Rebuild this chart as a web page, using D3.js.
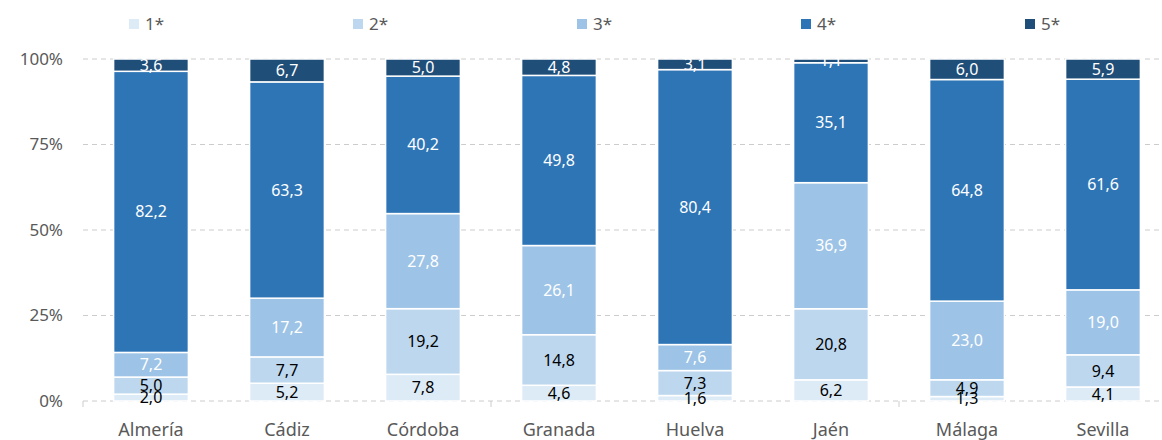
<!DOCTYPE html>
<html>
<head>
<meta charset="utf-8">
<script src="https://cdn.jsdelivr.net/npm/d3@7"></script>
<style>
  body { margin: 0; background: #fff; }
  text { font-family: "Source Sans Pro", "Noto Sans", sans-serif; }
</style>
</head>
<body>
<svg id="chart" width="1162" height="440"></svg>
<script>
const provinces = ["Almería", "Cádiz", "Córdoba", "Granada", "Huelva", "Jaén", "Málaga", "Sevilla"];
const stars = ["1*", "2*", "3*", "4*", "5*"];
const star1 = [2.0, 5.2, 7.8, 4.6, 1.6, 6.2, 1.3, 4.1];
const star2 = [5.0, 7.7, 19.2, 14.8, 7.3, 20.8, 4.9, 9.4];
const star3 = [7.2, 17.2, 27.8, 26.1, 7.6, 36.9, 23.0, 19.0];
const star4 = [82.2, 63.3, 40.2, 49.8, 80.4, 35.1, 64.8, 61.6];
const star5 = [3.6, 6.7, 5.0, 4.8, 3.1, 1.1, 6.0, 5.9];
const yTicks = [0, 0.25, 0.5, 0.75, 1];

const colors = ["#ddebf7", "#bdd7ee", "#9dc3e6", "#2e75b6", "#1f4e79"];
const labelColors = ["#000", "#000", "#fff", "#fff", "#fff"];

const svg = d3.select("#chart");
const margin = { top: 59, left: 83, bottom: 401 };

const rows = provinces.map((p, i) => {
  const r = { province: p };
  [star1, star2, star3, star4, star5].forEach((s, k) => r[stars[k]] = s[i]);
  return r;
});

const x = d3.scaleBand()
  .domain(provinces)
  .range([margin.left, margin.left + 136 * 8])
  .paddingInner(0.45)
  .paddingOuter(0.225);

const y = d3.scaleLinear().domain([0, 1]).range([margin.bottom, margin.top]);

// gridlines
svg.append("g")
  .selectAll("line")
  .data(yTicks)
  .join("line")
  .attr("x1", margin.left)
  .attr("x2", 1162)
  .attr("y1", d => y(d))
  .attr("y2", d => y(d))
  .attr("stroke", "#cccccc")
  .attr("stroke-width", 1)
  .attr("stroke-dasharray", "5,4");

// x tick marks every 3 categories
svg.append("g")
  .selectAll("line")
  .data([0, 3, 6])
  .join("line")
  .attr("x1", d => margin.left + x.step() * d)
  .attr("x2", d => margin.left + x.step() * d)
  .attr("y1", margin.bottom)
  .attr("y2", margin.bottom + 6)
  .attr("stroke", "#cccccc");

// y labels
svg.append("g")
  .selectAll("text")
  .data(yTicks)
  .join("text")
  .attr("x", 63)
  .attr("y", d => y(d))
  .attr("dy", "0.35em")
  .attr("text-anchor", "end")
  .attr("fill", "#595959")
  .attr("font-size", 17)
  .text(d => d3.format(".0%")(d));

// x labels
svg.append("g")
  .selectAll("text")
  .data(provinces)
  .join("text")
  .attr("x", d => x(d) + x.bandwidth() / 2)
  .attr("y", 436)
  .attr("text-anchor", "middle")
  .attr("fill", "#595959")
  .attr("font-size", 18)
  .text(d => d);

// normalise to 100%
rows.forEach(r => {
  const total = d3.sum(stars, s => r[s]);
  stars.forEach(s => r["n" + s] = r[s] / total);
});

const stack = d3.stack().keys(stars.map(s => "n" + s));
const series = stack(rows);
const fmt = v => d3.format(".1f")(v).replace(".", ",");

const layer = svg.append("g")
  .selectAll("g")
  .data(series)
  .join("g")
  .attr("fill", (d, i) => colors[i]);

layer.selectAll("rect")
  .data(d => d)
  .join("rect")
  .attr("x", d => x(d.data.province))
  .attr("width", x.bandwidth())
  .attr("y", d => y(d[1]))
  .attr("height", d => y(d[0]) - y(d[1]))
  .attr("stroke", "#fff")
  .attr("stroke-width", 1.5);

series.forEach((s, i) => {
  svg.append("g")
    .selectAll("text")
    .data(s)
    .join("text")
    .attr("x", d => x(d.data.province) + x.bandwidth() / 2)
    .attr("y", d => y((d[0] + d[1]) / 2))
    .attr("dy", "0.35em")
    .attr("text-anchor", "middle")
    .attr("fill", labelColors[i])
    .attr("font-size", 16)
    .text(d => fmt(d.data[stars[i]]));
});

// legend
const legend = svg.append("g")
  .selectAll("g")
  .data(stars)
  .join("g")
  .attr("transform", (d, i) => `translate(${129 + i * 224},24)`);

legend.append("rect")
  .attr("x", 0)
  .attr("y", -5)
  .attr("width", 10)
  .attr("height", 10)
  .attr("fill", (d, i) => colors[i]);

legend.append("text")
  .attr("x", 16)
  .attr("dy", "0.35em")
  .attr("fill", "#595959")
  .attr("font-size", 17)
  .text(d => d);
</script>
</body>
</html>
